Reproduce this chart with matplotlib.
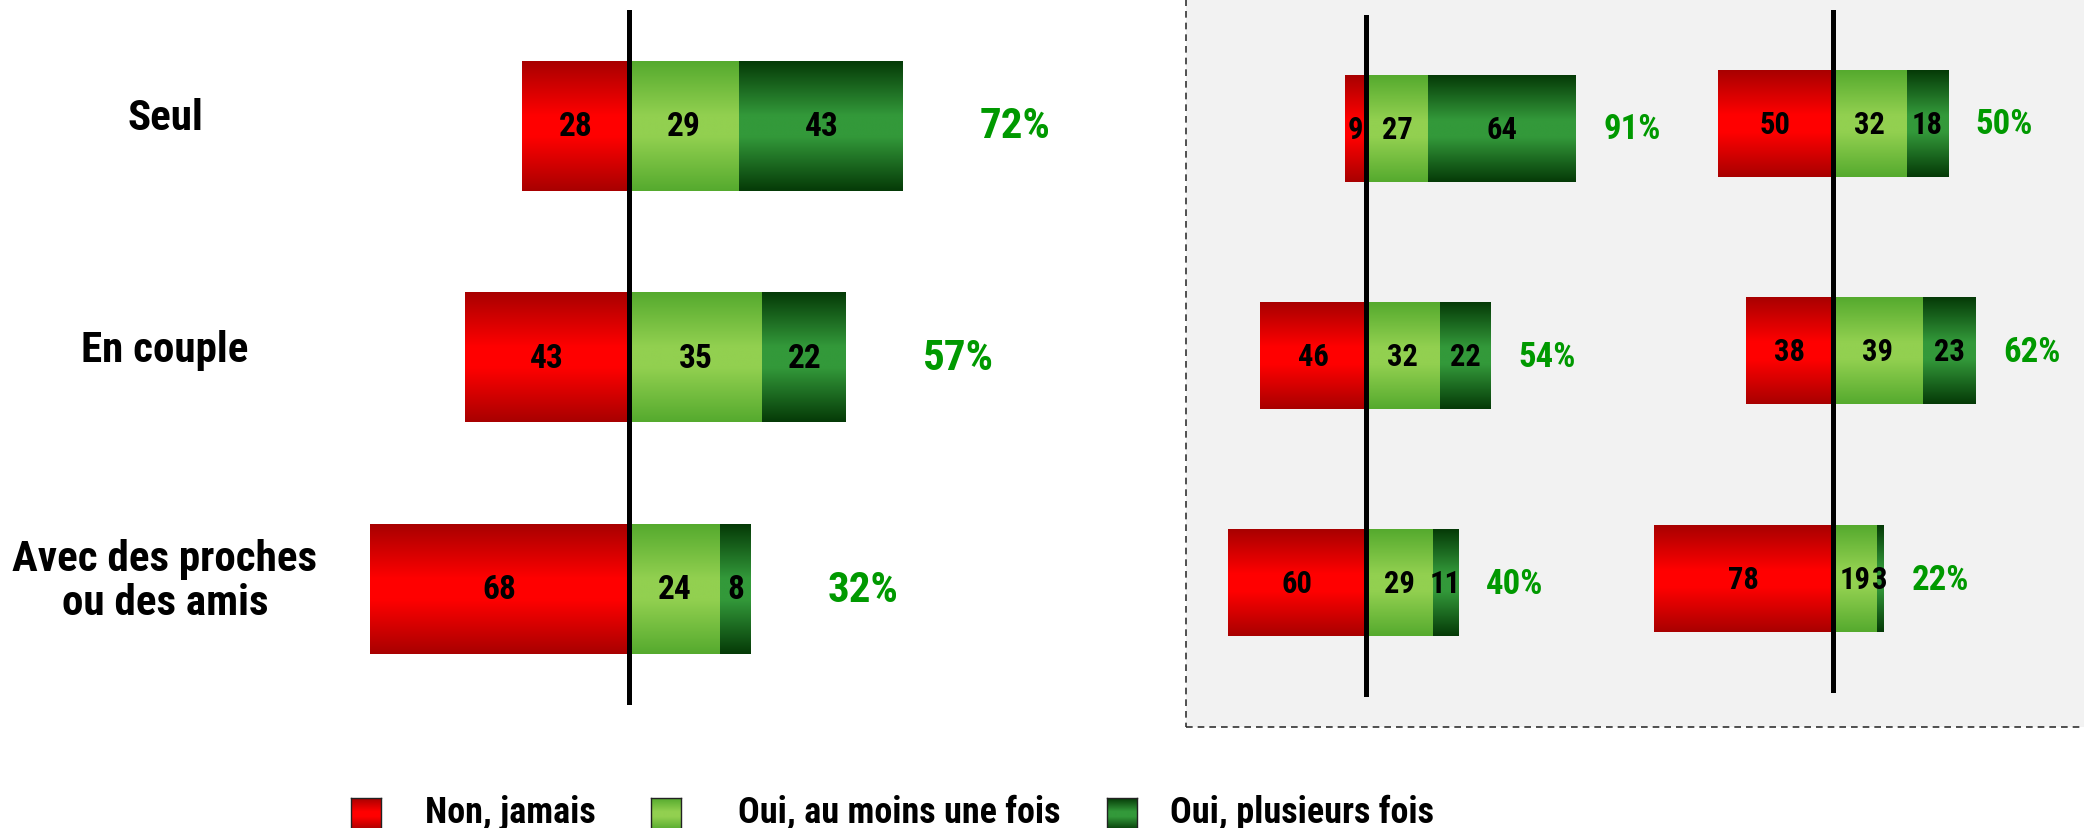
import matplotlib.pyplot as plt
import numpy as np
from matplotlib.colors import LinearSegmentedColormap
from matplotlib.transforms import blended_transform_factory
from matplotlib.patches import Rectangle

plt.rcParams['font.family'] = ['Roboto Condensed', 'Liberation Sans Narrow', 'Liberation Sans', 'DejaVu Sans']
plt.rcParams['font.weight'] = 'bold'

# data
categories = ['Seul', 'En couple', 'Avec des proches\nou des amis']
legend_labels = ['Non, jamais', 'Oui, au moins une fois', 'Oui, plusieurs fois']

main_non = [28, 43, 68]
main_once = [29, 35, 24]
main_many = [43, 22, 8]
main_pct = [72, 57, 32]

sub1_non = [9, 46, 60]
sub1_once = [27, 32, 29]
sub1_many = [64, 22, 11]
sub1_pct = [91, 54, 40]

sub2_non = [50, 38, 78]
sub2_once = [32, 39, 19]
sub2_many = [18, 23, 3]
sub2_pct = [50, 62, 22]

# colours (edge, middle) for the vertical gradients
grad_cols = [('#a80000', '#ff0000'), ('#55aa2e', '#92d050'), ('#053a07', '#33993a')]
cmaps = [LinearSegmentedColormap.from_list('g%d' % i, [(0, e), (0.42, m), (0.58, m), (1, e)])
         for i, (e, m) in enumerate(grad_cols)]
pct_color = '#009900'
grad = np.linspace(0, 1, 256).reshape(-1, 1)

W, H = 2084, 829
fig = plt.figure(figsize=(W / 100, H / 100), dpi=100)

# grey dashed box on the right
fig.patches.append(Rectangle((1186 / W, 101 / H), 1, 1, transform=fig.transFigure,
                             facecolor='#f2f2f2', edgecolor='#333333', lw=1.2,
                             linestyle=(0, (4, 3)), zorder=-5))


def draw_panel(ax, non, once, many, pct, bar_h, num_fs, pct_fs, pct_off):
    y = np.arange(len(non))
    non = np.array(non)
    once = np.array(once)
    many = np.array(many)
    segs = [(-non, non), (np.zeros_like(once), once), (once, many)]
    for (left, width), cmap in zip(segs, cmaps):
        bars = ax.barh(y, width, left=left, height=bar_h, color=cmap(0.5), zorder=2)
        for r in bars:
            x0, y0, w, h = r.get_x(), r.get_y(), r.get_width(), r.get_height()
            ax.imshow(grad, cmap=cmap, aspect='auto', extent=(x0, x0 + w, y0 + h, y0),
                      zorder=2.5, interpolation='bilinear')
        for r, v in zip(bars, width):
            ax.text(r.get_x() + r.get_width() / 2, r.get_y() + r.get_height() / 2, str(v),
                    ha='center', va='center', fontsize=num_fs, fontweight='bold',
                    color='black', zorder=5)
    ends = once + many
    for yi, e, p in zip(y, ends, pct):
        ax.annotate('%d%%' % p, (e, yi), xytext=(pct_off, 0), textcoords='offset points',
                    ha='left', va='center', fontsize=pct_fs, fontweight='bold',
                    color=pct_color, zorder=5)
    ax.axvline(0, color='black', lw=3.6, zorder=4)
    ax.set_ylim(2.5, -0.5)
    ax.axis('off')
    ax.patch.set_alpha(0)


# left panel
ax = fig.add_axes([0, 0.1484, 1186 / W, 0.8383])
ax.set_xlim(-629 / 3.81, (1186 - 629) / 3.81)
draw_panel(ax, main_non, main_once, main_many, main_pct, 0.56, 24, 31, 55)
tr = blended_transform_factory(fig.transFigure, ax.transData)
for i, c in enumerate(categories):
    ax.annotate(c, (165 / W, i), xycoords=tr, xytext=(0, 6), textcoords='offset points',
                ha='center', va='center', fontsize=31, fontweight='bold', linespacing=1.1)

# right panel, two sub-charts
ax1 = fig.add_axes([1190 / W, 0.158, 410 / W, 0.8227])
ax1.set_xlim((1190 - 1366) / 2.3, (1600 - 1366) / 2.3)
draw_panel(ax1, sub1_non, sub1_once, sub1_many, sub1_pct, 0.467, 22, 25, 20)

ax2 = fig.add_axes([1600 / W, 0.1629, 484 / W, 0.8243])
ax2.set_xlim((1600 - 1833) / 2.3, (2084 - 1833) / 2.3)
draw_panel(ax2, sub2_non, sub2_once, sub2_many, sub2_pct, 0.467, 22, 25, 20)

# legend at the bottom (cut by the image border like the original)
sw_x = [351, 651, 1107]
tx_x = [425, 738, 1170]
for sx, txx, cmap, lab in zip(sw_x, tx_x, cmaps, legend_labels):
    sa = fig.add_axes([sx / W, -2 / H, 30 / W, 32 / H])
    sa.imshow(grad, cmap=cmap, aspect='auto', extent=(0, 1, 1, 0))
    sa.set_xticks([])
    sa.set_yticks([])
    for s in sa.spines.values():
        s.set_linewidth(1)
        s.set_color('#222222')
    fig.text(txx / W, 16 / H, lab, ha='left', va='center', fontsize=26, fontweight='bold')

fig.savefig('out.png', dpi=100, facecolor='white')
